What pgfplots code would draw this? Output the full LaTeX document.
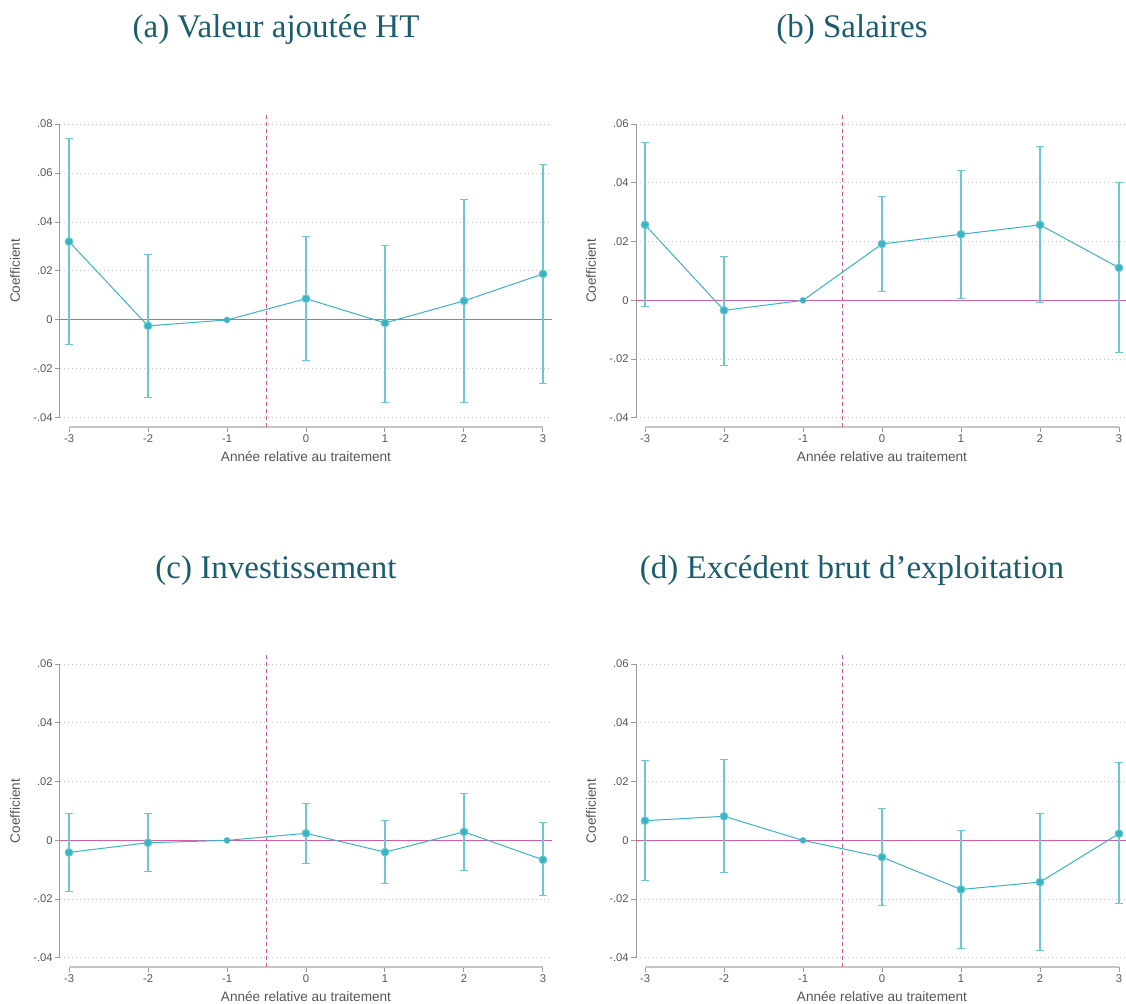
\documentclass[border=0pt]{standalone}
\usepackage{pgfplots}
\pgfplotsset{compat=1.18}
\usepackage{pgfplotstable}
\usepackage{fontspec}
\setmainfont{Liberation Sans}
\newfontfamily\titlefont{Liberation Serif}
\definecolor{main}{HTML}{38B3C2}
\definecolor{ci}{HTML}{6CC7D2}
\definecolor{zero}{HTML}{D45DA6}
\definecolor{vline}{HTML}{D4559F}
\definecolor{ttl}{HTML}{1B5D6E}
\definecolor{txt}{HTML}{555555}
\definecolor{grd}{HTML}{C8C8C8}
\definecolor{yax}{HTML}{9A9A9A}
\definecolor{xax}{HTML}{C4C4C4}

\pgfplotstableread{
x b lo hi
-3 0.0320 -0.0101 0.0740
-2 -0.0024 -0.0317 0.0269
-1 0 0 0
0 0.0087 -0.0166 0.0340
1 -0.0012 -0.0335 0.0306
2 0.0078 -0.0335 0.0491
3 0.0188 -0.0258 0.0634
}\dataA
\pgfplotstableread{
x b lo hi
-3 0.0257 -0.0021 0.0537
-2 -0.0034 -0.0221 0.0151
-1 0 0 0
0 0.0192 0.0030 0.0353
1 0.0225 0.0006 0.0442
2 0.0257 -0.0008 0.0525
3 0.0111 -0.0177 0.0401
}\dataB
\pgfplotstableread{
x b lo hi
-3 -0.0041 -0.0173 0.0093
-2 -0.0008 -0.0106 0.0092
-1 0 0 0
0 0.0024 -0.0077 0.0125
1 -0.0040 -0.0146 0.0069
2 0.0029 -0.0101 0.0159
3 -0.0066 -0.0189 0.0060
}\dataC
\pgfplotstableread{
x b lo hi
-3 0.0067 -0.0137 0.0273
-2 0.0082 -0.0109 0.0276
-1 0 0 0
0 -0.0057 -0.0223 0.0110
1 -0.0167 -0.0368 0.0035
2 -0.0142 -0.0374 0.0093
3 0.0023 -0.0216 0.0264
}\dataD

\pgfplotsset{
 es/.style={
  scale only axis, clip=false,
  height=156pt, width=246pt, xmin=-3.114, xmax=3.114,
  scaled y ticks=false,
  xtick={-3,-2,-1,0,1,2,3}, xticklabels={-3,-2,-1,0,1,2,3},
  axis line style={draw=none},
  tick align=outside, xtick pos=bottom, ytick pos=left,
  major tick length=2.5pt,
  tick style={color=yax, line width=0.5pt},
  ymajorgrids, grid style={grd, line width=0.5pt, dash pattern=on 0.5pt off 1.5pt},
  ticklabel style={font=\fontsize{5.6}{6.5}\selectfont, text=txt, inner sep=1pt},
  label style={font=\fontsize{6.8}{8}\selectfont, text=txt},
  xlabel={Année relative au traitement},
  ylabel={Coefficient},
  xlabel style={at={(axis description cs:0.5,-0.0962)}, anchor=center},
  ylabel style={at={(axis description cs:-0.0915,0.5)}, anchor=center},
 },
 esA/.style={es, ymin=-0.0437, ymax=0.0837,
  ytick={-0.04,-0.02,0,0.02,0.04,0.06,0.08}, yticklabels={-.04,-.02,0,.02,.04,.06,.08}},
 esB/.style={es, ymin=-0.0431, ymax=0.0631,
  ytick={-0.04,-0.02,0,0.02,0.04,0.06}, yticklabels={-.04,-.02,0,.02,.04,.06}},
 cibars/.style={ci, only marks, mark=none, forget plot, skip coords between index={2}{3},
  error bars/.cd, y dir=both, y explicit,
  error bar style={draw=ci, line width=1pt},
  error mark options={rotate=90, draw=ci, mark size=2pt, line width=0.5pt}},
 pts/.style={main, line width=0.5pt, mark=*, mark size=1.5pt, mark options={fill=main, draw=main, line width=0.1pt}},
 vl/.style={vline, line width=0.5pt, dash pattern=on 2pt off 1.5pt, forget plot},
}

\begin{document}
\begin{tikzpicture}
\useasboundingbox (0,0) rectangle (563pt,501.5pt);

% (a)
\begin{axis}[esA, at={(30pt,288pt)}, anchor=south west]
\draw[yax, line width=0.5pt] (axis cs:-3.114,-0.04) -- (axis cs:-3.114,0.08);
\draw[xax, line width=1pt] (axis cs:-3,-0.0437) -- (axis cs:3,-0.0437);
\addplot[zero, line width=0.5pt, forget plot] coordinates {(-3.114,0) (3.114,0)};
\addplot[vl] coordinates {(-0.5,-0.0437) (-0.5,0.0837)};
\addplot[cibars] table[x=x, y=b, y error plus expr=\thisrow{hi}-\thisrow{b}, y error minus expr=\thisrow{b}-\thisrow{lo}] {\dataA};
\addplot[pts] table[x=x, y=b] {\dataA};
\end{axis}

% (b)
\begin{axis}[esB, at={(318pt,288pt)}, anchor=south west]
\draw[yax, line width=0.5pt] (axis cs:-3.114,-0.04) -- (axis cs:-3.114,0.06);
\draw[xax, line width=1pt] (axis cs:-3,-0.0431) -- (axis cs:3,-0.0431);
\addplot[zero, line width=0.6pt, forget plot] coordinates {(-3.114,0) (3.114,0)};
\addplot[vl] coordinates {(-0.5,-0.0431) (-0.5,0.0631)};
\addplot[cibars] table[x=x, y=b, y error plus expr=\thisrow{hi}-\thisrow{b}, y error minus expr=\thisrow{b}-\thisrow{lo}] {\dataB};
\addplot[pts] table[x=x, y=b] {\dataB};
\end{axis}

% (c)
\begin{axis}[esB, at={(30pt,18pt)}, anchor=south west]
\draw[yax, line width=0.5pt] (axis cs:-3.114,-0.04) -- (axis cs:-3.114,0.06);
\draw[xax, line width=1pt] (axis cs:-3,-0.0431) -- (axis cs:3,-0.0431);
\addplot[zero, line width=0.6pt, forget plot] coordinates {(-3.114,0) (3.114,0)};
\addplot[vl] coordinates {(-0.5,-0.0431) (-0.5,0.0631)};
\addplot[cibars] table[x=x, y=b, y error plus expr=\thisrow{hi}-\thisrow{b}, y error minus expr=\thisrow{b}-\thisrow{lo}] {\dataC};
\addplot[pts] table[x=x, y=b] {\dataC};
\end{axis}

% (d)
\begin{axis}[esB, at={(318pt,18pt)}, anchor=south west]
\draw[yax, line width=0.5pt] (axis cs:-3.114,-0.04) -- (axis cs:-3.114,0.06);
\draw[xax, line width=1pt] (axis cs:-3,-0.0431) -- (axis cs:3,-0.0431);
\addplot[zero, line width=0.6pt, forget plot] coordinates {(-3.114,0) (3.114,0)};
\addplot[vl] coordinates {(-0.5,-0.0431) (-0.5,0.0631)};
\addplot[cibars] table[x=x, y=b, y error plus expr=\thisrow{hi}-\thisrow{b}, y error minus expr=\thisrow{b}-\thisrow{lo}] {\dataD};
\addplot[pts] table[x=x, y=b] {\dataD};
\end{axis}

\begin{scope}[every node/.style={anchor=base, text=ttl, font=\titlefont\fontsize{16.5}{18}\selectfont}]
\node at (138pt,482.5pt) {(a) Valeur ajoutée HT};
\node at (426pt,482.5pt) {(b) Salaires};
\node at (138pt,212pt) {(c) Investissement};
\node at (426pt,212pt) {(d) Excédent brut d’exploitation};
\end{scope}
\end{tikzpicture}
\end{document}
